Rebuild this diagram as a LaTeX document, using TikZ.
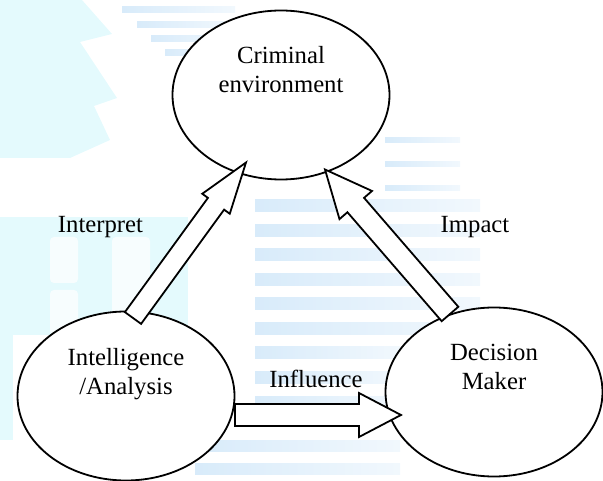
\documentclass[tikz,border=0pt]{standalone}
\usepackage{fontspec}
\setmainfont{Liberation Serif}
\usetikzlibrary{shapes.geometric,calc}

\definecolor{wmcyan}{RGB}{228,250,253}
\definecolor{wmblue}{RGB}{216,235,250}

\tikzset{
  bubble/.style={ellipse, draw=black, line width=1.8pt, fill=white,
                 minimum width=217pt, minimum height=169pt, inner sep=0pt},
  caption/.style={font=\fontsize{24.7}{29}\selectfont, align=center, inner sep=0pt},
  hollow/.style={draw=black, fill=white, line width=1.8pt, line join=miter},
  stripe/.style={left color=wmblue, right color=wmblue!35!white, draw=none},
}

% block arrow: #1 tail, #2 tip, #3 shaft half width, #4 head half width, #5 head length
\newcommand\hollowarrow[5]{%
  \coordinate (nk) at ($(#2)!#5!(#1)$);
  \draw[hollow] ($(#1)!#3!90:(#2)$) -- ($(nk)!#3!90:(#2)$) -- ($(nk)!#4!90:(#2)$)
    -- (#2) -- ($(nk)!#4!-90:(#2)$) -- ($(nk)!#3!-90:(#2)$)
    -- ($(#1)!#3!-90:(#2)$) -- cycle;
}

\begin{document}
\begin{tikzpicture}[x=1pt,y=-1pt]
\useasboundingbox (0,0) rectangle (603,481);

% faint background emblem
\fill[wmcyan] (0,0) -- (82,0) -- (112,34) -- (80,42) -- (117,98) -- (94,106)
  -- (110,140) -- (70,158) -- (0,158) -- cycle;
\fill[wmcyan] (0,217) rectangle (188,335);
\fill[wmcyan] (0,335) rectangle (13,440);
\fill[white!70!wmcyan, rounded corners=4pt] (50,237) rectangle (78,283);
\fill[white!70!wmcyan, rounded corners=4pt] (50,290) rectangle (78,335);
\fill[white!70!wmcyan, rounded corners=4pt] (112,237) rectangle (150,335);
\foreach \y in {7,22,36,50} \shade[stripe] (115+\y,\y) rectangle (235,\y+6);
\foreach \y in {138,162,186} \shade[stripe] (385,\y) rectangle (460,\y+5);
\foreach \y in {200,224.5,...,330} \shade[stripe] (255,\y) rectangle (480,\y+12);
\foreach \y in {347,371.5,...,400} \shade[stripe] (255,\y) rectangle (400,\y+12);
\foreach \y in {440,463} \shade[stripe] (195,\y) rectangle (400,\y+11);

% the three parties
\node[bubble] (env) at (281,95) {};
\node[bubble] (intel) at (126,396) {};
\node[bubble] (dm) at (494,392) {};

\node[caption] (envtext) at (281,70) {Criminal\\environment};
\node[caption] (inteltext) at (126,374.5) {Intelligence\\/Analysis};
\node[caption] (dmtext) at (494,367) {Decision\\Maker};

% arrow end points on the ellipses
\coordinate (aT) at (133,318);
\coordinate (aH) at (246,162.5);
\coordinate (bT) at (450,314);
\coordinate (bH) at (325,169.5);
\coordinate (cT) at (235,415);
\coordinate (cH) at (401,415);

\hollowarrow{aT}{aH}{10pt}{17pt}{51pt}
\hollowarrow{bT}{bH}{11pt}{21.5pt}{47pt}
\hollowarrow{cT}{cH}{11pt}{22pt}{42pt}

% arrow labels
\node[caption, anchor=base] (interpret) at (100.5,232.5) {Interpret};
\node[caption, anchor=base] (impact) at (475,232.5) {Impact};
\node[caption, anchor=base] (influence) at (316,388) {Influence};
\end{tikzpicture}
\end{document}
